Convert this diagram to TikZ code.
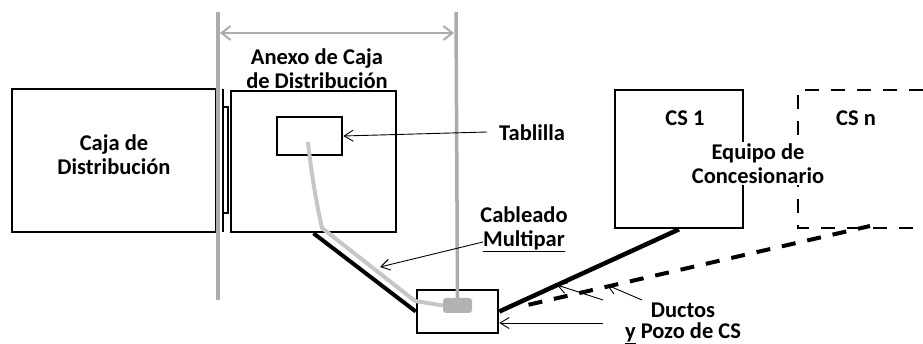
\documentclass[tikz,border=0pt]{standalone}
\usepackage{fontspec}
\setmainfont{Carlito}
\usetikzlibrary{arrows.meta}
\begin{document}
\begin{tikzpicture}[x=1pt,y=-1pt,
    box/.style={draw,line width=2.6pt,inner sep=0pt},
    lbl/.style={font=\fontsize{22.5}{24}\selectfont\bfseries,align=center,inner sep=0pt},
    guide/.style={draw=gray!65,line width=3.5pt},
    pointer/.style={-{Straight Barb[length=9pt,width=11pt]},line width=0.9pt},
    duct/.style={line width=4pt}]
  \useasboundingbox (0,0) rectangle (923,344);
  % cajas
  \node[box,minimum width=204pt,minimum height=143pt] (caja) at (114,160.5) {};
  \node[box,minimum width=165pt,minimum height=141pt] (anexo) at (313.5,161.5) {};
  \node[box,minimum width=65pt,minimum height=38pt] (tablilla) at (309.5,136) {};
  \node[box,minimum width=81pt,minimum height=43pt] (pozo) at (457.5,311.5) {};
  \node[fill=gray!60,rounded corners=3pt,minimum width=29pt,minimum height=15pt,inner sep=0pt] (blob) at (457.5,305.5) {};
  \node[box,minimum width=128pt,minimum height=138pt] (cs1) at (679,159) {};
  \draw[line width=2.6pt,dash pattern=on 14pt off 12pt] (923,90) -- (798,90) -- (798,228) -- (923,228);
  % bisagra
  \draw[line width=1.6pt] (222.7,89) -- (222.7,232);
  \draw[line width=1.6pt] (222.7,107) rectangle (227.7,213);
  % textos
  \node[lbl] (tcaja) at (114,155) {Caja de\\Distribución};
  \node[lbl] (tanexo) at (317,68.5) {Anexo de Caja\\de Distribución};
  \node[lbl,anchor=west] (ttablilla) at (499,133) {Tablilla};
  \node[lbl] (tcable) at (524,229) {Cableado\\\underline{Multipar}};
  \node[lbl] (tcs1) at (685,118) {CS 1};
  \node[lbl] (tcsn) at (856,118) {CS n};
  \node[lbl,fill=white,inner sep=2pt] (tequipo) at (758,163.5) {Equipo de\\Concesionario};
  \node[lbl,font=\fontsize{22.5}{21}\selectfont\bfseries] (tductos) at (683,323) {Ductos\\\underline{y} Pozo de CS};
  % guias y cota
  \coordinate (gl1) at (218,12);
  \coordinate (gl2) at (218,300);
  \coordinate (gr1) at (456,12);
  \draw[guide] (gl1) -- (gl2);
  \draw[guide] (gr1) -- (blob.north);
  \draw[draw=gray!65,line width=2pt,{Straight Barb[length=9pt,width=14pt]}-{Straight Barb[length=9pt,width=14pt]}]
    (220,33) -- (454,33);
  % cableado
  \coordinate (cabtop) at (308,142);
  \draw[draw=gray!45,line width=4pt,line join=round]
    (cabtop) .. controls (312,180) and (318,210) .. (322,228) -- (415,301) -- (blob.west);
  % ductos
  \coordinate (ductend) at (870,226);
  \draw[duct] (anexo.south) -- (pozo.west);
  \draw[duct,line width=4.5pt] (cs1.south) -- (pozo.east);
  \draw[duct,dash pattern=on 14pt off 12pt,shorten <=30pt] (pozo.east) -- (ductend);
  % flechas
  \coordinate (ptab) at (487,132);
  \coordinate (pcab) at (483,242);
  \coordinate (pcabend) at (380,267);
  \coordinate (pd1) at (603,300);
  \coordinate (pd1end) at (557,285);
  \coordinate (pd2) at (642,300);
  \coordinate (pd2end) at (607,285);
  \coordinate (ppozo) at (603,323);
  \draw[pointer] (ptab) -- (tablilla.east);
  \draw[pointer] (pcab) -- (pcabend);
  \draw[pointer] (pd1) -- (pd1end);
  \draw[pointer] (pd2) -- (pd2end);
  \draw[pointer] (ppozo) -- (pozo.east |- ppozo);
\end{tikzpicture}
\end{document}
